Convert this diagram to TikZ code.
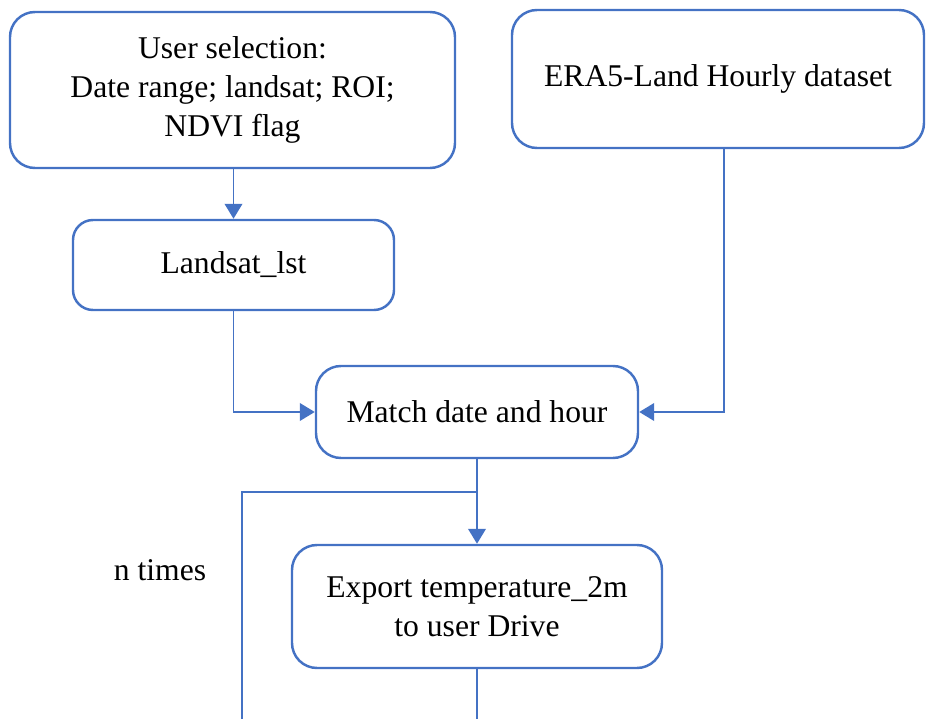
\documentclass[tikz,border=0pt]{standalone}
\usepackage{fontspec}
\setmainfont{Liberation Serif}
\usetikzlibrary{arrows.meta, positioning}
\definecolor{flowblue}{HTML}{4472C4}

\begin{document}
\begin{tikzpicture}[
    box/.style={draw=flowblue, line width=1.4pt, rounded corners=0.5cm, align=center,
                font=\fontsize{18}{22}\selectfont, inner sep=2pt},
    link/.style={draw=flowblue, line width=1.1pt},
    arr/.style={link, -{Triangle[length=8.5pt, width=10pt]}}
]
        \useasboundingbox (0,0) rectangle (18.52,-14.38);
        % Inputs
        \node[box, minimum width=8.90cm, minimum height=3.12cm] (sel) at (4.65,-1.80)
            {User selection:\\Date range; landsat; ROI;\\NDVI flag};
        \node[box, minimum width=8.24cm, minimum height=2.76cm] (era) at (14.36,-1.58)
            {ERA5-Land Hourly dataset};
        \node[box, rounded corners=0.4cm, minimum width=6.42cm, minimum height=1.80cm] (lst) at (4.67,-5.30)
            {Landsat\_lst};
        % Matching and export
        \node[box, minimum width=6.44cm, minimum height=1.84cm] (match) at (9.54,-8.24)
            {Match date and hour};
        \node[box, minimum width=7.40cm, minimum height=2.46cm] (export) at (9.54,-12.13)
            {Export temperature\_2m\\to user Drive};
        \node[font=\fontsize{18}{22}\selectfont] (ntimes) at (3.2,-11.4) {n times};
        \coordinate (loopin) at (9.54,-9.84);
        \coordinate (loopbot) at (4.84,-14.38);
        \coordinate (outbot) at (9.54,-14.38);
        % Connectors
        \draw[arr] (lst |- sel.south) -- (lst.north);
        \draw[arr] (lst.south) |- (match.west);
        \draw[arr] ([xshift=0.12cm]era.south) |- (match.east);
        \draw[arr] (match.south) -- (export.north);
        \draw[link] (loopin) -| (loopbot);
        \draw[link] (export.south) -- (outbot);
    \end{tikzpicture}
\end{document}
